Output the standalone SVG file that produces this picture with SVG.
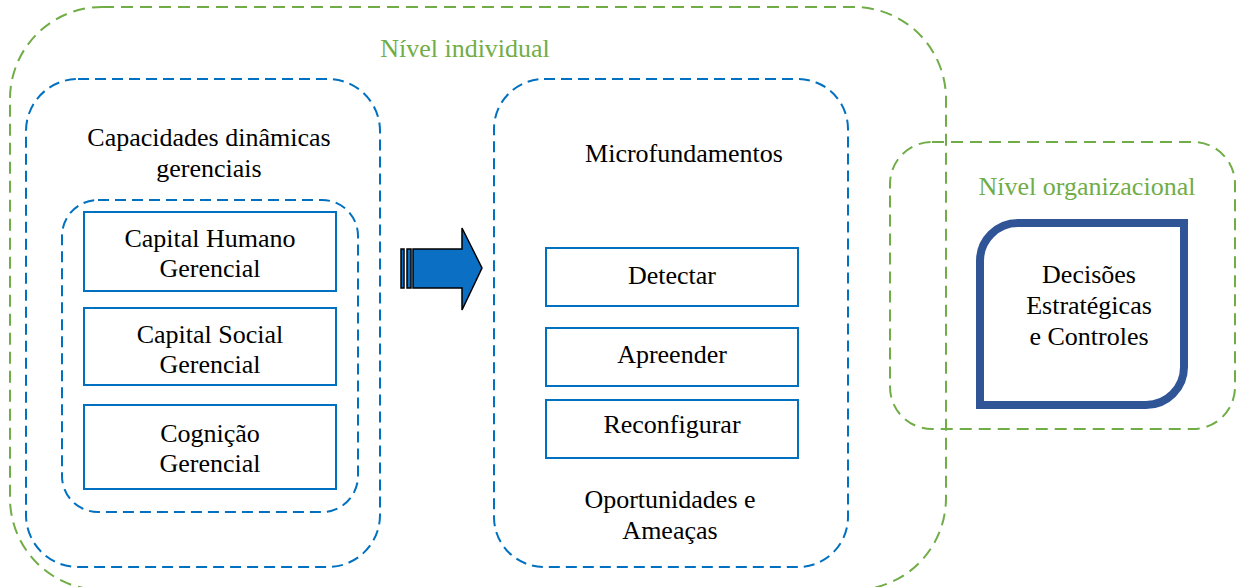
<svg xmlns="http://www.w3.org/2000/svg" width="1237" height="587" viewBox="0 0 1237 587">
  <style>
    .lvl { fill: none; stroke: #70AD47; stroke-width: 2; stroke-dasharray: 12 7; }
    .grp { fill: none; stroke: #0070C0; stroke-width: 2; stroke-dasharray: 11 6; }
    .box { fill: #FFFFFF; stroke: #0070C0; stroke-width: 2; }
    text { font-family: 'Liberation Serif', 'DejaVu Serif', serif; font-size: 26px; fill: #000000; text-anchor: middle; }
    .lvl-label { fill: #70AD47; }
  </style>

  <!-- individual level container -->
  <g id="nivel-individual">
    <rect class="lvl" x="10" y="7" width="936" height="583" rx="92" ry="92"/>
    <text class="lvl-label" x="465" y="57" font-family="Liberation Serif">Nível individual</text>
  </g>

  <!-- organizational level container -->
  <g id="nivel-organizacional">
    <rect class="lvl" x="890" y="142" width="345" height="287" rx="42" ry="42"/>
    <text class="lvl-label" x="1087" y="195">Nível organizacional</text>
  </g>

  <!-- managerial dynamic capabilities -->
  <g id="capacidades">
    <rect class="grp" x="26" y="79" width="354" height="488" rx="52" ry="52"/>
    <text x="209" y="146">Capacidades dinâmicas</text>
    <text x="209" y="177">gerenciais</text>
  </g>

  <g id="grupo-capital">
    <rect class="grp" x="62" y="200" width="296" height="312" rx="36" ry="36"/>
  </g>

  <g id="capital-humano">
    <rect class="box" x="84" y="212" width="252" height="79"/>
    <text x="210" y="247">Capital Humano</text>
    <text x="210" y="277">Gerencial</text>
  </g>

  <g id="capital-social">
    <rect class="box" x="84" y="308" width="252" height="77"/>
    <text x="210" y="343">Capital Social</text>
    <text x="210" y="373">Gerencial</text>
  </g>

  <g id="cognicao">
    <rect class="box" x="84" y="405" width="252" height="84"/>
    <text x="210" y="442">Cognição</text>
    <text x="210" y="472">Gerencial</text>
  </g>

  <!-- microfoundations -->
  <g id="microfundamentos">
    <rect class="grp" x="494" y="79" width="354" height="488" rx="50" ry="50"/>
    <text x="684" y="162">Microfundamentos</text>
    <text x="670" y="508">Oportunidades e</text>
    <text x="670" y="539">Ameaças</text>
  </g>

  <g id="detectar">
    <rect class="box" x="546" y="248" width="252" height="58"/>
    <text x="672" y="284">Detectar</text>
  </g>

  <g id="apreender">
    <rect class="box" x="546" y="328" width="252" height="58"/>
    <text x="672" y="363">Apreender</text>
  </g>

  <g id="reconfigurar">
    <rect class="box" x="546" y="400" width="252" height="58"/>
    <text x="672" y="433">Reconfigurar</text>
  </g>

  <!-- strategic decisions -->
  <g id="decisoes">
    <path d="M980,405 L980,261 A38,38 0 0 1 1018,223 L1184,223 L1184,367 A38,38 0 0 1 1146,405 Z"
          fill="#FFFFFF" stroke="#2F5597" stroke-width="8" stroke-linejoin="miter"/>
    <text x="1089" y="283">Decisões</text>
    <text x="1089" y="314">Estratégicas</text>
    <text x="1089" y="345">e Controles</text>
  </g>

  <!-- striped block arrow -->
  <g id="conectores">
    <rect x="401" y="249" width="3" height="39" fill="#0B6FC4" stroke="#000000" stroke-width="1.5"/>
    <rect x="407" y="249" width="4" height="39" fill="#0B6FC4" stroke="#000000" stroke-width="1.5"/>
    <path d="M413,249 L462,249 L462,228 L482,268 L462,310 L462,288 L413,288 Z"
          fill="#0B6FC4" stroke="#000000" stroke-width="1.5" stroke-linejoin="miter"/>
  </g>
</svg>
